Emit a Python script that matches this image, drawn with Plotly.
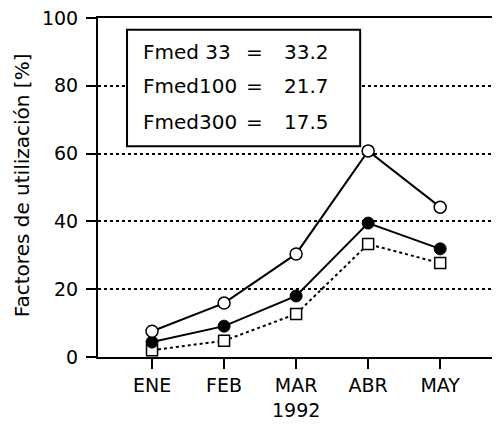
import plotly.graph_objects as go

months = ["ENE", "FEB", "MAR", "ABR", "MAY"]
year_label = "1992"
f33 = [7.6, 15.9, 30.4, 60.8, 44.2]
f100 = [4.4, 9.1, 18.0, 39.5, 31.9]
f300 = [2.0, 4.8, 12.7, 33.3, 27.7]
box_labels = ["Fmed 33", "Fmed100", "Fmed300"]
box_values = ["33.2", "21.7", "17.5"]
y_ticks = [0, 20, 40, 60, 80, 100]

xi = list(range(len(months)))
FONT = "DejaVu Sans"

fig = go.Figure()
fig.add_trace(go.Scatter(x=xi, y=f300, mode="lines+markers",
                         line=dict(color="black", width=2, dash="dot"),
                         marker=dict(symbol="square", size=11, color="white",
                                     line=dict(color="black", width=1.5))))
fig.add_trace(go.Scatter(x=xi, y=f100, mode="lines+markers",
                         line=dict(color="black", width=2),
                         marker=dict(symbol="circle", size=12, color="black",
                                     line=dict(color="black", width=1))))
fig.add_trace(go.Scatter(x=xi, y=f33, mode="lines+markers",
                         line=dict(color="black", width=2),
                         marker=dict(symbol="circle", size=12, color="white",
                                     line=dict(color="black", width=1.5))))

# legend-like box
fig.add_shape(type="rect", xref="x", yref="y", x0=-0.347, x1=2.889, y0=62.2, y1=96.5,
              layer="between", fillcolor="white", line=dict(color="black", width=2))
row_y = [90.0, 79.9, 69.2]
for lab, val, yy in zip(box_labels, box_values, row_y):
    fig.add_annotation(x=-0.16, y=yy, xref="x", yref="y", text=lab, showarrow=False,
                       xanchor="left", font=dict(family=FONT, size=20, color="black"))
    fig.add_annotation(x=1.42, y=yy, xref="x", yref="y", text="=", showarrow=False,
                       xanchor="center", font=dict(family=FONT, size=20, color="black"))
    fig.add_annotation(x=1.80, y=yy, xref="x", yref="y", text=val, showarrow=False,
                       xanchor="left", font=dict(family=FONT, size=20, color="black"))

# year label under MAR
fig.add_annotation(x=2, y=-0.155, xref="x", yref="paper", text=year_label, showarrow=False,
                   xanchor="center", yanchor="middle", font=dict(family=FONT, size=19, color="black"))

# y-axis title
fig.add_annotation(x=-0.189, y=0.507, xref="paper", yref="paper",
                   text="Factores de utilización [%]", textangle=-90, showarrow=False,
                   xanchor="center", yanchor="middle",
                   font=dict(family=FONT, size=20, color="black"))

# page body has an 8px margin, so the figure is sized/offset to compensate
fig.update_layout(
    width=492, height=417,
    margin=dict(l=90, r=0, t=10, b=68),
    paper_bgcolor="white", plot_bgcolor="white",
    showlegend=False,
    font=dict(family=FONT, size=18, color="black"),
)
fig.update_xaxes(range=[-0.75, 4.83], tickmode="array", tickvals=xi, ticktext=months,
                 automargin=False, ticklabeloverflow="allow",
                 showgrid=False, zeroline=False, showline=True, linecolor="black", linewidth=2,
                 mirror=True, ticks="outside", ticklen=10, tickwidth=2, tickcolor="black",
                 tickfont=dict(family=FONT, size=19, color="black"))
fig.update_yaxes(range=[0, 100], tickmode="array", tickvals=y_ticks, automargin=False,
                 ticklabeloverflow="allow",
                 showgrid=True, gridcolor="black", gridwidth=1.5, griddash="dot",
                 zeroline=False, showline=True, linecolor="black", linewidth=2,
                 ticks="outside", ticklen=10, tickwidth=2, tickcolor="black",
                 ticklabelstandoff=4,
                 tickfont=dict(family=FONT, size=19, color="black"))

fig.write_html("out.html")
